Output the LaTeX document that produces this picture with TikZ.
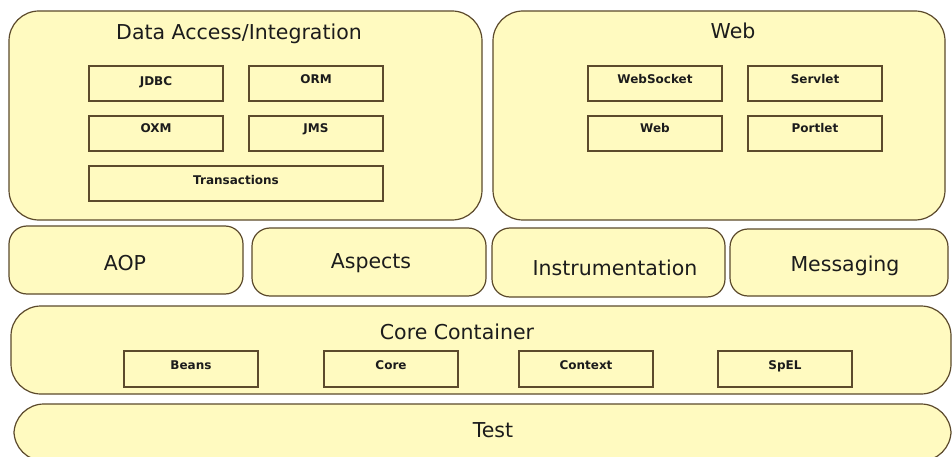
\documentclass[tikz,border=0pt]{standalone}
\usepackage{fontspec}
\setmainfont{DejaVu Sans}
\definecolor{boxfill}{HTML}{FFFAC0}
\definecolor{boxline}{HTML}{5C4A2C}
\definecolor{inkdark}{HTML}{1C1C1C}
\tikzset{
  layer/.style={draw=boxline, line width=1.2pt, fill=boxfill, rounded corners=#1,
                anchor=north west, inner sep=0pt, outer sep=0pt},
  module/.style={draw=boxline, line width=1.2pt, fill=boxfill,
                 anchor=north west, inner sep=0pt, outer sep=0pt},
  title/.style={anchor=base, text=inkdark, inner sep=0pt,
                font=\fontsize{20.5}{24}\selectfont},
  modlabel/.style={anchor=base, text=inkdark, inner sep=0pt,
                   font=\fontsize{12}{14}\selectfont\bfseries},
}
\begin{document}
\begin{tikzpicture}[x=1pt, y=-1pt]
\useasboundingbox (0,0) rectangle (952,457);
\clip (0,0) rectangle (952,457);
\fill[white] (0,0) rectangle (952,457);

% --- top row: Data Access/Integration and Web ---
\node[layer=30pt, minimum width=473pt, minimum height=209pt] (data) at (9,11) {};
\node[title] (datat) at (239,40) {Data Access/Integration};
\node[module, minimum width=134pt, minimum height=35pt] (jdbc) at (89,66) {};
\node[modlabel] at ([yshift=-2pt]jdbc.center |- 0,84) {JDBC};
\node[module, minimum width=134pt, minimum height=35pt] (orm) at (249,66) {};
\node[modlabel] at (orm.center |- 0,84) {ORM};
\node[module, minimum width=134pt, minimum height=35pt] (oxm) at (89,116) {};
\node[modlabel] at (oxm.center |- 0,133) {OXM};
\node[module, minimum width=134pt, minimum height=35pt] (jms) at (249,116) {};
\node[modlabel] at (jms.center |- 0,133) {JMS};
\node[module, minimum width=294pt, minimum height=35pt] (tx) at (89,166) {};
\node[modlabel] at (tx.center |- 0,184) {Transactions};

\node[layer=30pt, minimum width=452pt, minimum height=209pt] (web) at (493,11) {};
\node[title] (webt) at (733,39) {Web};
\node[module, minimum width=134pt, minimum height=35pt] (wsock) at (588,66) {};
\node[modlabel] at (wsock.center |- 0,84) {WebSocket};
\node[module, minimum width=134pt, minimum height=35pt] (servlet) at (748,66) {};
\node[modlabel] at (servlet.center |- 0,84) {Servlet};
\node[module, minimum width=134pt, minimum height=35pt] (webm) at (588,116) {};
\node[modlabel] at (webm.center |- 0,133) {Web};
\node[module, minimum width=134pt, minimum height=35pt] (portlet) at (748,116) {};
\node[modlabel] at (portlet.center |- 0,133) {Portlet};

% --- middle row ---
\node[layer=18pt, minimum width=234pt, minimum height=68pt] (aop) at (9,226) {};
\node[title] at (125,270) {AOP};
\node[layer=18pt, minimum width=234pt, minimum height=68pt] (aspects) at (252,228) {};
\node[title] at (371,268) {Aspects};
\node[layer=18pt, minimum width=233pt, minimum height=69pt] (instr) at (492,228) {};
\node[title] at (615,275) {Instrumentation};
\node[layer=18pt, minimum width=218pt, minimum height=67pt] (msg) at (730,229) {};
\node[title] at (845,271) {Messaging};

% --- core container ---
\node[layer=30pt, minimum width=940pt, minimum height=88pt] (core) at (11,306) {};
\node[title] (coret) at (457,339) {Core Container};
\node[module, minimum width=134pt, minimum height=36pt] (beans) at (124,351) {};
\node[modlabel] at (beans.center |- 0,369) {Beans};
\node[module, minimum width=134pt, minimum height=36pt] (coremod) at (324,351) {};
\node[modlabel] at (coremod.center |- 0,369) {Core};
\node[module, minimum width=134pt, minimum height=36pt] (context) at (519,351) {};
\node[modlabel] at (context.center |- 0,369) {Context};
\node[module, minimum width=134pt, minimum height=36pt] (spel) at (718,351) {};
\node[modlabel] at (spel.center |- 0,369) {SpEL};

% --- test ---
\node[layer=30pt, minimum width=937pt, minimum height=57pt] (test) at (14,404) {};
\node[title] (testt) at (493,437) {Test};
\end{tikzpicture}
\end{document}
